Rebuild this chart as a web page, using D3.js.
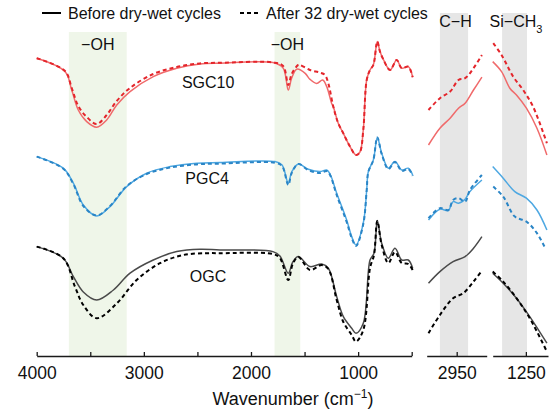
<!DOCTYPE html>
<html lang="en">
<head>
  <meta charset="UTF-8">
  <title>FTIR spectra</title>
  <script src="https://d3js.org/d3.v7.min.js"></script>
  <style>
    html, body { margin: 0; padding: 0; background: #fff; }
    svg text { font-family: "Liberation Sans", Arial, sans-serif; fill: #111; }
    .curve { fill: none; stroke-linejoin: round; stroke-linecap: butt; }
    .axis path, .axis line { stroke: #1a1a1a; stroke-width: 1.3px; }
    .axis text { font-size: 17.5px; fill: #111; }
  </style>
</head>
<body>
<div id="container"></div>
<script>
// ---- data ----
const mainTicks = d3.range(4000, 499, -500);
const ohBands = [[3700, 3160], [1780, 1540]];
const chBand = [2978, 2931];
const siBand = [1293, 1248];
const samples = ['SGC10', 'PGC4', 'OGC'];

// [wavenumber, transmittance a.u. with offset]
const sgc10Before = [[4000,148.9],[3736,142.2],[3673,133],[3612,123],[3533,117.2],[3440,114.4],[3347,118],[3253,125.5],[3129,132.2],[2912,139.7],[2693,143.9],[2476,146],[2289,146.4],[1795,146.7],[1700,144],[1652,133],[1620,139],[1573,143.4],[1494,141.3],[1449,138.3],[1387,136.3],[1331,138],[1293,134.7],[1247,126.3],[1232,124.7],[1185,116.3],[1138,111.3],[1076,104.7],[1020,100.5],[983,102],[952,113],[920,138],[889,143],[858,145.5],[821,157.2],[796,152.2],[765,148.3],[702,143],[640,148],[593,143.9],[532,144.7],[491,139.4]];
const sgc10After = [[4000,148.9],[3736,142.5],[3673,134],[3612,125],[3533,119.5],[3440,116],[3347,120.5],[3253,127.5],[3129,134],[2912,141],[2693,144.5],[2476,146.3],[2289,146.6],[1795,146.8],[1700,145],[1652,135.5],[1620,141],[1560,145.5],[1543,145.5],[1449,143],[1356,141.7],[1310,140.5],[1278,136.3],[1232,124.7],[1185,116.3],[1138,111.3],[1076,104.7],[1020,100.5],[983,102],[952,113],[920,138],[889,143],[858,145.5],[821,157.2],[796,152.2],[765,148.3],[702,143],[640,148],[593,143.9],[532,144.7],[491,139.4]];
const pgc4Before = [[4000,99.7],[3752,93.9],[3658,86.4],[3565,75.5],[3440,70],[3316,74.7],[3160,84.7],[2973,91.4],[2756,94.7],[2507,96.4],[2289,96.7],[1776,97.2],[1710,95.5],[1652,86.4],[1620,92],[1558,96],[1465,93.4],[1356,92.2],[1293,93],[1262,91],[1200,81.4],[1107,68],[1060,59.7],[1020,55.5],[952,66.4],[920,83],[905,92.2],[858,98],[821,109.3],[780,101.4],[718,93.9],[656,97.2],[593,93],[532,93.9],[491,90.5]];
const pgc4After = [[4000,99.7],[3752,93.6],[3658,86],[3565,75],[3440,70.3],[3316,75],[3160,85],[2973,91],[2756,94.2],[2507,95.8],[2289,96.2],[1776,96.6],[1710,95],[1652,85.5],[1620,91.5],[1558,96],[1465,93],[1356,91.5],[1293,92.5],[1262,90.5],[1200,80.5],[1107,67],[1060,59],[1020,55],[952,66],[920,83],[905,92],[858,98],[821,109.3],[780,101],[718,93.5],[656,97],[593,92.5],[532,93.5],[491,90]];
const ogcBefore = [[4000,54.7],[3752,48.9],[3658,39.7],[3565,32],[3440,28],[3284,33],[3129,41.4],[2912,48],[2693,52.2],[2476,53.4],[2289,53],[1795,52.2],[1730,50],[1652,41.4],[1610,47],[1558,49.7],[1449,44.7],[1340,46],[1278,43.9],[1200,29.7],[1138,19.7],[1060,13.9],[1020,11.4],[952,16.4],[889,48],[852,51.4],[821,67.7],[780,56.4],[718,48.9],[656,53.9],[593,48],[532,48],[491,43.9]];
const ogcAfter = [[4000,54.7],[3752,48.9],[3643,34.7],[3565,25.5],[3440,18.9],[3253,26.3],[3067,38],[2849,46.4],[2632,50.5],[2413,51.4],[2289,51.4],[1795,51],[1730,49],[1652,38],[1610,46],[1558,49.5],[1449,43],[1340,45.5],[1278,43.5],[1200,28],[1138,17],[1060,10.5],[1020,7.2],[952,13],[889,44],[852,50.5],[821,67.5],[780,55.5],[718,46.5],[656,52],[593,46.5],[532,46],[491,43]];

// C-H zoom (3000-2900)
const sgc10BeforeCH = [[2997,105.5],[2978,113.9],[2961,118.9],[2947,123.9],[2936,126.4],[2922,133],[2908,139.4]];
const sgc10AfterCH = [[2997,123],[2978,128.9],[2961,132.2],[2947,138],[2936,138.9],[2922,143.9],[2908,150.5]];
const pgc4BeforeCH = [[2997,68],[2978,73.4],[2964,72.7],[2956,77.2],[2947,76.4],[2936,78.4],[2928,82.2],[2908,88]];
const pgc4AfterCH = [[2997,68.9],[2978,73.9],[2964,73],[2956,78],[2947,78.9],[2936,77.2],[2928,83],[2908,90.5]];
const ogcBeforeCH = [[2997,36.4],[2978,42.2],[2956,47.2],[2936,49.7],[2922,53.9],[2908,59.7]];
const ogcAfterCH = [[2997,11.4],[2978,20.5],[2956,28.9],[2939,31.4],[2922,37.2],[2908,42.7]];

// Si-CH3 zoom (1310-1210)
const sgc10BeforeSi = [[1310,147.2],[1294,142.2],[1279,133.9],[1267,130.5],[1249,123.9],[1230,113.9],[1212,100.5]];
const sgc10AfterSi = [[1309,156.4],[1294,150.5],[1273,139.7],[1255,133],[1237,124.7],[1212,106.4]];
const pgc4BeforeSi = [[1310,94.7],[1291,88.9],[1270,82.2],[1249,78.9],[1230,73],[1212,63]];
const pgc4AfterSi = [[1309,84.7],[1291,79.7],[1270,69.7],[1249,67.2],[1230,61.4],[1215,53.9]];
const ogcBeforeSi = [[1310,41.4],[1291,36.4],[1267,28.9],[1243,19.7],[1212,6.4]];
const ogcAfterSi = [[1310,42.2],[1291,37.2],[1267,28.9],[1243,18.9],[1212,2.2]];

// ---- layout ----
const width = 550, height = 412;
const axisY = 356;

const svg = d3.select('#container').append('svg')
  .attr('width', width).attr('height', height);

const x = d3.scaleLinear().domain([4000, 500]).range([36.7, 411.7]);
const xCH = d3.scaleLinear().domain([3000, 2900]).range([426.7, 486.7]);
const xSi = d3.scaleLinear().domain([1310, 1210]).range([492.7, 548]);
const y = d3.scaleLinear().domain([0, 170]).range([axisY, 16]);

// shaded bands
svg.selectAll('.oh-band').data(ohBands).enter().append('rect')
  .attr('class', 'oh-band')
  .attr('x', d => x(d[0])).attr('width', d => x(d[1]) - x(d[0]))
  .attr('y', 32).attr('height', axisY - 32)
  .attr('fill', '#eff6e9');

svg.append('rect').attr('x', xCH(chBand[0])).attr('width', xCH(chBand[1]) - xCH(chBand[0]))
  .attr('y', 13).attr('height', axisY - 13).attr('fill', '#e6e6e6');
svg.append('rect').attr('x', xSi(siBand[0])).attr('width', xSi(siBand[1]) - xSi(siBand[0]))
  .attr('y', 13).attr('height', axisY - 13).attr('fill', '#e6e6e6');

// curves
const series = [
  {main: sgc10Before, ch: sgc10BeforeCH, si: sgc10BeforeSi, color: '#f06a6b', dash: null, w: 1.5},
  {main: pgc4Before, ch: pgc4BeforeCH, si: pgc4BeforeSi, color: '#4ea8e2', dash: null, w: 1.5},
  {main: ogcBefore, ch: ogcBeforeCH, si: ogcBeforeSi, color: '#4a4a4a', dash: null, w: 1.5},
  {main: sgc10After, ch: sgc10AfterCH, si: sgc10AfterSi, color: '#e4252b', dash: '4,3', w: 2},
  {main: pgc4After, ch: pgc4AfterCH, si: pgc4AfterSi, color: '#2a85c6', dash: '4,3', w: 2},
  {main: ogcAfter, ch: ogcAfterCH, si: ogcAfterSi, color: '#000', dash: '4,3', w: 2}
];

const lineFor = xs => d3.line().x(d => xs(d[0])).y(d => y(d[1])).curve(d3.curveCatmullRom.alpha(0.5));

series.forEach(s => {
  [[s.main, x], [s.ch, xCH], [s.si, xSi]].forEach(([data, xs]) => {
    svg.append('path').attr('class', 'curve')
      .attr('d', lineFor(xs)(data))
      .attr('stroke', s.color)
      .attr('stroke-width', s.w)
      .attr('stroke-dasharray', s.dash);
  });
});

// axes
const xAxis = d3.axisBottom(x).tickValues(mainTicks)
  .tickFormat(d => d % 1000 === 0 ? d : '')
  .tickSizeInner(-4).tickSizeOuter(0).tickPadding(11);
svg.append('g').attr('class', 'axis').attr('transform', `translate(0,${axisY})`).call(xAxis);

svg.append('g').attr('class', 'axis').attr('transform', `translate(0,${axisY})`)
  .call(d3.axisBottom(xCH).tickValues([2950]).tickFormat(d3.format('d'))
    .tickSizeInner(-4).tickSizeOuter(0).tickPadding(11));
svg.append('g').attr('class', 'axis').attr('transform', `translate(0,${axisY})`)
  .call(d3.axisBottom(xSi).tickValues([1250]).tickFormat(d3.format('d'))
    .tickSizeInner(-4).tickSizeOuter(0).tickPadding(11));

svg.selectAll('.axis text').attr('fill', '#111');

const title = svg.append('text').attr('x', 293).attr('y', 405)
  .attr('text-anchor', 'middle').style('font-size', '18px');
title.append('tspan').text('Wavenumber (cm');
title.append('tspan').attr('baseline-shift', 'super').style('font-size', '12px').text('−1');
title.append('tspan').text(')');

// sample labels
const sampleLabelPos = [[2400, 134], [2410, 86], [2401, 37]];
svg.selectAll('.sample').data(samples).enter().append('text')
  .attr('class', 'sample')
  .attr('x', (d, i) => x(sampleLabelPos[i][0]))
  .attr('y', (d, i) => y(sampleLabelPos[i][1]))
  .attr('text-anchor', 'middle').style('font-size', '16px')
  .text(d => d);

// band labels
svg.selectAll('.oh-label').data(ohBands).enter().append('text')
  .attr('x', d => (x(d[0]) + x(d[1])) / 2).attr('y', 50)
  .attr('text-anchor', 'middle').style('font-size', '16px').text('−OH');

svg.append('text').attr('x', 455.5).attr('y', 27).attr('text-anchor', 'middle')
  .style('font-size', '16px').text('C−H');
const si = svg.append('text').attr('x', 516).attr('y', 27).attr('text-anchor', 'middle')
  .style('font-size', '16px');
si.append('tspan').text('Si−CH');
si.append('tspan').attr('baseline-shift', 'sub').style('font-size', '11px').text('3');

// legend
const legend = [
  {label: 'Before dry-wet cycles', x: 42, dash: null},
  {label: 'After 32 dry-wet cycles', x: 240, dash: '4,3'}
];
legend.forEach(l => {
  svg.append('line').attr('x1', l.x).attr('x2', l.x + 19).attr('y1', 13).attr('y2', 13)
    .attr('stroke', '#000').attr('stroke-width', 2).attr('stroke-dasharray', l.dash);
  svg.append('text').attr('x', l.x + 26).attr('y', 19).style('font-size', '16px').text(l.label);
});
</script>
</body>
</html>
